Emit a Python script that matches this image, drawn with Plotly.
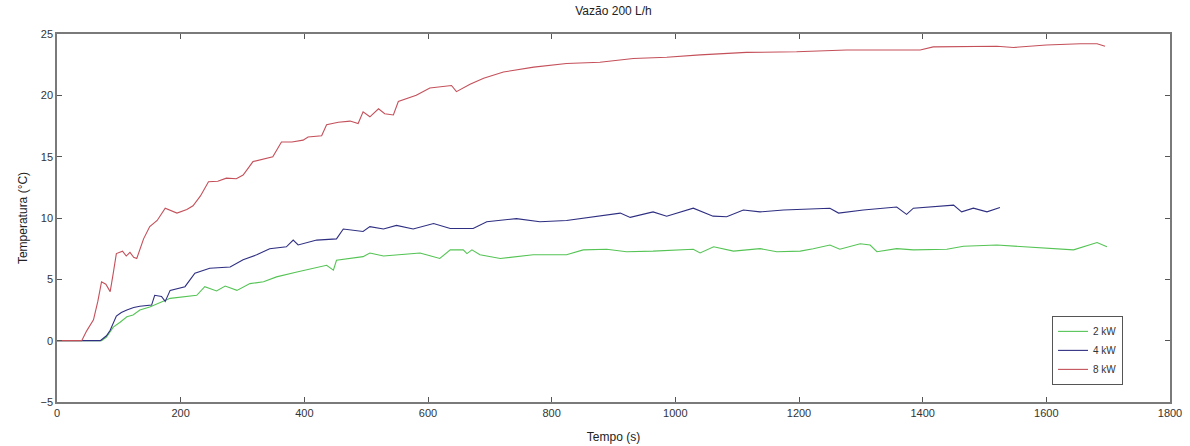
import plotly.graph_objects as go

# 8 kW (red)
t_8kw = [0, 40, 48, 59, 66, 72, 79, 86, 91, 96, 106, 112, 118, 124, 129, 140, 150, 162, 175, 194, 210, 220,
         232, 245, 260, 274, 290, 301, 317, 335, 349, 363, 380, 398, 406, 428, 436, 455, 474, 487, 495, 506,
         520, 530, 544, 552, 581, 603, 638, 646, 668, 690, 722, 771, 824, 878, 932, 986, 1040, 1115, 1196,
         1277, 1396, 1417, 1520, 1547, 1600, 1655, 1682, 1695]
T_8kw = [0, 0, 0.8, 1.7, 3.2, 4.8, 4.6, 4.0, 5.5, 7.1, 7.3, 6.9, 7.2, 6.8, 6.7, 8.3, 9.3, 9.8, 10.8, 10.4, 10.7, 11.0,
         11.8, 12.95, 13.0, 13.25, 13.2, 13.5, 14.6, 14.8, 15.0, 16.2, 16.2, 16.35, 16.6, 16.7, 17.6, 17.8, 17.9, 17.7, 18.65, 18.25,
         18.9, 18.5, 18.4, 19.5, 20.0, 20.6, 20.8, 20.3, 20.9, 21.4, 21.9, 22.3, 22.6, 22.7, 23.0, 23.1, 23.3, 23.5, 23.55,
         23.7, 23.7, 23.95, 24.0, 23.9, 24.1, 24.2, 24.2, 24.0]

# 4 kW (blue)
t_4kw = [0, 70, 80, 86, 96, 104, 113, 124, 134, 153, 158, 169, 175, 183, 207, 223, 247, 280, 301, 323, 344, 371,
         382, 390, 420, 452, 463, 495, 506, 528, 549, 576, 609, 636, 673, 695, 743, 781, 824, 867, 911, 927, 964,
         986, 1029, 1061, 1083, 1110, 1137, 1175, 1250, 1264, 1304, 1358, 1374, 1385, 1412, 1450, 1463, 1482, 1504, 1525]
T_4kw = [0, 0, 0.4, 0.85, 2.0, 2.3, 2.5, 2.7, 2.8, 2.9, 3.7, 3.6, 3.2, 4.1, 4.4, 5.5, 5.9, 6.0, 6.6, 7.0, 7.5, 7.65,
         8.2, 7.8, 8.2, 8.3, 9.1, 8.9, 9.3, 9.1, 9.4, 9.1, 9.55, 9.15, 9.15, 9.7, 9.95, 9.7, 9.8, 10.1, 10.4, 10.05, 10.5,
         10.15, 10.8, 10.15, 10.1, 10.65, 10.5, 10.65, 10.8, 10.4, 10.65, 10.9, 10.3, 10.8, 10.9, 11.05, 10.5, 10.8, 10.5, 10.85]

# 2 kW (green)
t_2kw = [0, 72, 80, 91, 102, 113, 123, 134, 150, 161, 183, 226, 239, 258, 272, 291, 312, 334, 355, 388, 436, 447,
         452, 495, 506, 528, 555, 587, 619, 636, 657, 663, 671, 684, 717, 770, 824, 851, 889, 921, 964, 1029, 1040,
         1062, 1094, 1137, 1164, 1202, 1223, 1250, 1266, 1299, 1315, 1326, 1358, 1385, 1439, 1466, 1520, 1574, 1628,
         1644, 1682, 1698]
T_2kw = [0, 0, 0.3, 1.1, 1.5, 1.95, 2.1, 2.5, 2.75, 3.0, 3.45, 3.7, 4.4, 4.05, 4.45, 4.1, 4.65, 4.8, 5.2, 5.6, 6.15, 5.75,
         6.55, 6.85, 7.15, 6.9, 7.0, 7.15, 6.7, 7.4, 7.4, 7.1, 7.4, 7.0, 6.7, 7.0, 7.0, 7.4, 7.45, 7.25, 7.3, 7.45, 7.15,
         7.65, 7.3, 7.5, 7.25, 7.3, 7.5, 7.8, 7.45, 7.9, 7.8, 7.25, 7.5, 7.4, 7.45, 7.7, 7.8, 7.65, 7.5,
         7.4, 8.0, 7.65]

x_ticks = [0, 200, 400, 600, 800, 1000, 1200, 1400, 1600, 1800]
y_ticks = [-5, 0, 5, 10, 15, 20, 25]

FONT = "Liberation Sans, Arial, sans-serif"

fig = go.Figure()
fig.add_trace(go.Scatter(x=t_2kw, y=T_2kw, mode="lines", name="2 kW", line=dict(color="#55c455", width=1.1)))
fig.add_trace(go.Scatter(x=t_4kw, y=T_4kw, mode="lines", name="4 kW", line=dict(color="#2e2e82", width=1.1)))
fig.add_trace(go.Scatter(x=t_8kw, y=T_8kw, mode="lines", name="8 kW", line=dict(color="#c4505a", width=1.1)))

axis_common = dict(
    showgrid=False, zeroline=False, showline=True, linecolor="#7a7a7a", linewidth=1.5,
    mirror="ticks", ticks="inside", ticklen=5, tickcolor="#555555", automargin=False,
    tickfont=dict(family=FONT, size=11, color="#333333"),
)

fig.update_layout(
    width=1190, height=446,
    margin=dict(l=57, r=20, t=34, b=44, autoexpand=False),
    paper_bgcolor="white", plot_bgcolor="white",
    title=dict(text="Vazão 200 L/h", x=0.5, xanchor="center", xref="paper",
               yref="container", y=0.976, yanchor="middle", pad=dict(t=0, b=0), automargin=False,
               font=dict(family=FONT, size=12, color="#222222")),
    xaxis=dict(range=[0, 1800], tickvals=x_ticks,
               title=dict(text="Tempo (s)", standoff=15,
                          font=dict(family=FONT, size=12, color="#222222")),
               **axis_common),
    yaxis=dict(range=[-5, 25], tickvals=y_ticks,
               title=dict(text="Temperatura (°C)", standoff=10,
                          font=dict(family=FONT, size=12, color="#222222")),
               **axis_common),
    legend=dict(x=0.894, y=0.234, xanchor="left", yanchor="top",
                bordercolor="#555555", borderwidth=1, bgcolor="white",
                font=dict(family=FONT, size=10, color="#333333"),
                tracegroupgap=0, itemwidth=30),
    showlegend=True,
)

# remove the browser's default 8px body margin so the figure fills the window exactly
fig.write_html("out.html", config={"displayModeBar": False},
               post_script="document.body.style.margin='0';")
